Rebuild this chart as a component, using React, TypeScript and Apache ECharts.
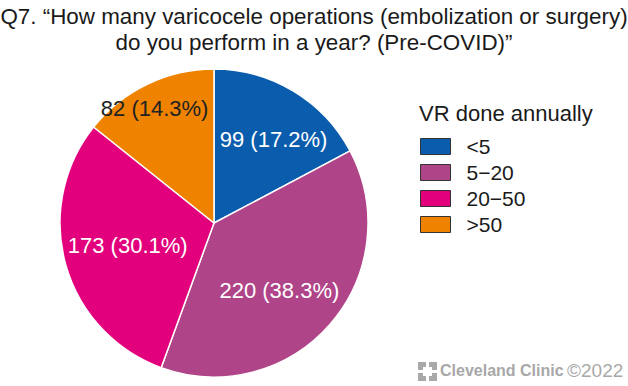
import React, { useEffect, useRef } from "react";
import * as echarts from "echarts";

const categories = ["<5", "5\u221220", "20\u221250", ">50"];
const counts = [99, 220, 173, 82];
const colors = ["#0a5cad", "#b04488", "#e2007d", "#ef8300"];
const labelColors = ["#ffffff", "#ffffff", "#ffffff", "#222222"];
const titleLines = [
  "Q7. \u201CHow many varicocele operations (embolization or surgery)",
  "do you perform in a year? (Pre-COVID)\u201D",
];
const legendTitle = "VR done annually";

const FONT = "'Liberation Sans', Arial, Helvetica, sans-serif";

export default function App() {
  const ref = useRef<HTMLDivElement>(null);
  useEffect(() => {
    document.body.style.margin = "0";
    if (!ref.current) return;
    const chart = echarts.init(ref.current, undefined, { renderer: "svg" });
    const total = counts.reduce((a, b) => a + b, 0);
    const data = categories.map((name, i) => ({
      name,
      value: counts[i],
      itemStyle: { color: colors[i] },
    }));
    const labelData = categories.map((name, i) => ({
      name,
      value: counts[i],
      label: { color: labelColors[i] },
    }));
    const center = [214, 223];
    const labelShift: Record<number, { dx: number; dy: number }> = {
      0: { dx: 8, dy: 2 },
      1: { dx: -10, dy: 2 },
      2: { dx: 10, dy: -5 },
      3: { dx: -16, dy: -24 },
    };
    chart.setOption({
      animation: false,
      backgroundColor: "#ffffff",
      title: [
        {
          text: titleLines.join("\n"),
          left: "center",
          top: -2,
          textStyle: {
            fontFamily: FONT,
            fontSize: 22.4,
            fontWeight: "normal",
            color: "#1a1a1a",
            lineHeight: 26,
            align: "center",
          },
        },
        {
          text: legendTitle,
          left: 414,
          top: 97,
          textStyle: {
            fontFamily: FONT,
            fontSize: 22,
            fontWeight: "normal",
            color: "#1a1a1a",
          },
        },
      ],
      legend: {
        orient: "vertical",
        left: 420,
        top: 136,
        padding: 0,
        icon: "rect",
        itemWidth: 30,
        itemHeight: 16,
        itemGap: 5,
        selectedMode: false,
        itemStyle: { borderColor: "#333", borderWidth: 1 },
        textStyle: {
          fontFamily: FONT,
          fontSize: 21,
          lineHeight: 20,
          color: "#1a1a1a",
          padding: [0, 0, 0, 11],
        },
        data: categories,
      },
      series: [
        {
          type: "pie",
          center,
          radius: [0, 154],
          startAngle: 90,
          clockwise: true,
          silent: true,
          label: { show: false },
          labelLine: { show: false },
          itemStyle: { borderColor: "#ffffff", borderWidth: 1.5 },
          data,
        },
        {
          type: "pie",
          center,
          radius: [40, 154],
          startAngle: 90,
          clockwise: true,
          silent: true,
          legendHoverLink: false,
          itemStyle: { color: "rgba(0,0,0,0)" },
          label: {
            show: true,
            position: "inside",
            fontFamily: FONT,
            fontSize: 22,
            formatter: (p: any) =>
              `${p.value} (${((p.value / total) * 100).toFixed(1)}%)`,
          },
          labelLine: { show: false },
          labelLayout: (p: any) => labelShift[p.dataIndex] || {},
          data: labelData,
        },
      ],
      graphic: [
        {
          type: "group",
          left: 418,
          top: 362,
          children: [
            { type: "rect", shape: { x: 0, y: 0, width: 19, height: 19 }, style: { fill: "#a8a8a8" } },
            { type: "rect", shape: { x: 5, y: 5, width: 9, height: 9 }, style: { fill: "#ffffff" } },
            { type: "rect", shape: { x: 8, y: 0, width: 3, height: 5 }, style: { fill: "#ffffff" } },
            { type: "rect", shape: { x: 8, y: 14, width: 3, height: 5 }, style: { fill: "#ffffff" } },
            { type: "rect", shape: { x: 0, y: 8, width: 5, height: 3 }, style: { fill: "#ffffff" } },
            { type: "rect", shape: { x: 14, y: 8, width: 5, height: 3 }, style: { fill: "#ffffff" } },
          ],
        },
        {
          type: "text",
          left: 440,
          top: 362,
          style: {
            text: "Cleveland Clinic",
            fontFamily: FONT,
            fontSize: 16,
            fontWeight: "bold",
            fill: "#a8a8a8",
          },
        },
        {
          type: "text",
          left: 567,
          top: 361,
          style: {
            text: "\u00A92022",
            fontFamily: FONT,
            fontSize: 19,
            fill: "#a8a8a8",
          },
        },
      ],
    });
    return () => chart.dispose();
  }, []);
  return <div ref={ref} style={{ width: 628, height: 386 }} />;
}
